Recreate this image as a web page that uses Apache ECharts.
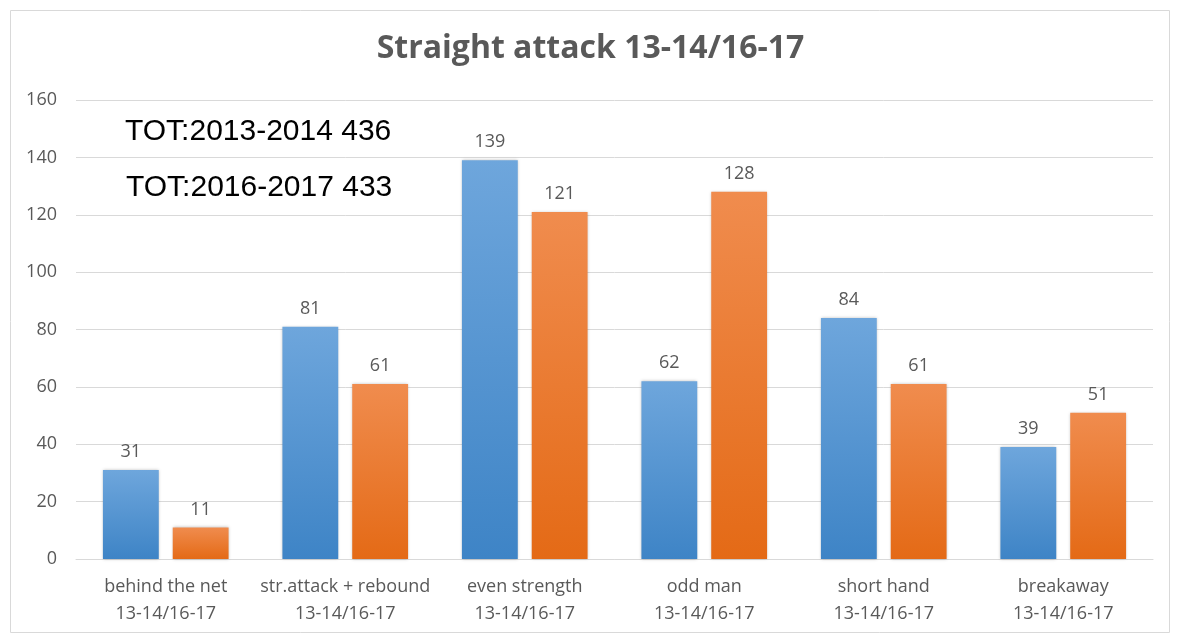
<!DOCTYPE html>
<html>
<head>
<meta charset="utf-8">
<script src="https://cdn.jsdelivr.net/npm/echarts@6/dist/echarts.min.js"></script>
<style>
  html, body { margin: 0; padding: 0; background: #fff; }
  #chart { width: 1181px; height: 635px; }
</style>
</head>
<body>
<div id="chart"></div>
<script>
const categories = [
  'behind the net\n13-14/16-17',
  'str.attack + rebound\n13-14/16-17',
  'even strength\n13-14/16-17',
  'odd man\n13-14/16-17',
  'short hand\n13-14/16-17',
  'breakaway\n13-14/16-17'
]
const season1314 = [31, 81, 139, 62, 84, 39]
const season1617 = [11, 61, 121, 128, 61, 51]
const totals = ['TOT:2013-2014 436', 'TOT:2016-2017 433']

const chart = echarts.init(document.getElementById('chart'))

const labelStyle = {
  show: true,
  position: 'top',
  distance: 9,
  color: '#595959',
  fontSize: 18,
  fontFamily: 'Open Sans'
}

const option = {
  animation: false,
  title: {
    text: 'Straight attack 13-14/16-17',
    left: 'center',
    top: 28,
    textStyle: { color: '#595959', fontSize: 32, fontWeight: 'bold', fontFamily: 'Open Sans' }
  },
  grid: { left: 76, right: 28, top: 100, bottom: 76 },
  xAxis: {
    type: 'category',
    data: categories,
    axisLine: { lineStyle: { color: '#d9d9d9', width: 1 } },
    axisTick: { show: false },
    axisLabel: { interval: 0, color: '#595959', fontSize: 18, lineHeight: 27, margin: 14, fontFamily: 'Open Sans' }
  },
  yAxis: {
    type: 'value',
    min: 0,
    max: 160,
    interval: 20,
    axisLine: { show: false },
    axisTick: { show: false },
    axisLabel: { color: '#595959', fontSize: 18, margin: 19, fontFamily: 'Open Sans' },
    splitLine: { lineStyle: { color: '#d9d9d9', width: 1 } }
  },
  series: [
    {
      name: '13-14',
      type: 'bar',
      data: season1314,
      barGap: '25%',
      barCategoryGap: '30%',
      label: labelStyle,
      itemStyle: {
        color: new echarts.graphic.LinearGradient(0, 0, 0, 1, [
          { offset: 0, color: '#6ea6dc' },
          { offset: 1, color: '#3e84c6' }
        ]),
        shadowColor: 'rgba(0,0,0,0.25)',
        shadowBlur: 3
      }
    },
    {
      name: '16-17',
      type: 'bar',
      data: season1617,
      label: labelStyle,
      itemStyle: {
        color: new echarts.graphic.LinearGradient(0, 0, 0, 1, [
          { offset: 0, color: '#f08c4e' },
          { offset: 1, color: '#e46a16' }
        ]),
        shadowColor: 'rgba(0,0,0,0.25)',
        shadowBlur: 3
      }
    }
  ],
  graphic: [
    {
      type: 'rect',
      left: 8, top: 8,
      shape: { width: 1159, height: 622 },
      style: { fill: 'none', stroke: '#d9d9d9', lineWidth: 1 },
      silent: true
    },
    {
      type: 'text',
      left: 125, top: 117,
      style: { text: totals[0], fill: '#000', fontSize: 30, fontFamily: 'Liberation Sans' },
      z: 101
    },
    {
      type: 'text',
      left: 126, top: 173,
      style: { text: totals[1], fill: '#000', fontSize: 30, fontFamily: 'Liberation Sans' },
      z: 101
    }
  ]
}

chart.setOption(option)
</script>
</body>
</html>
